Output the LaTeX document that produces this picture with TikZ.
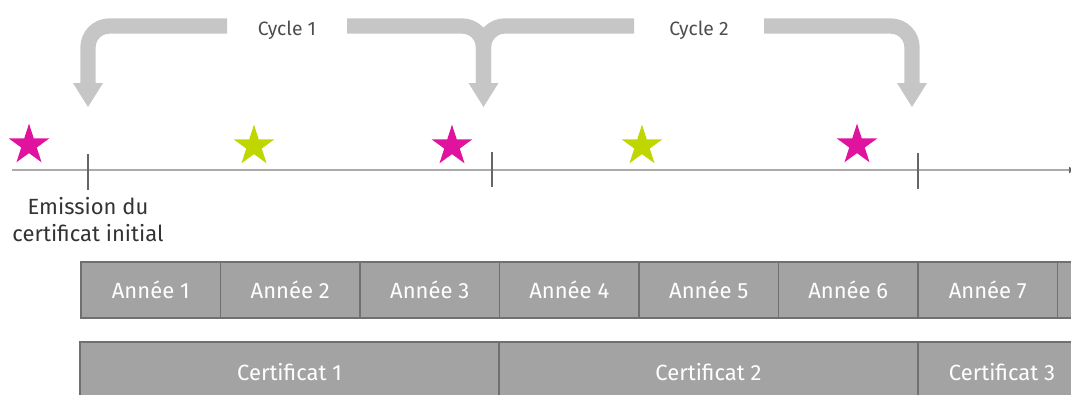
\documentclass[tikz,border=0pt]{standalone}
\usepackage{fontspec}
\setmainfont{Fira Sans}
\usetikzlibrary{shapes,positioning,arrows.meta,calc}
\definecolor{arrowgray}{HTML}{C6C6C6}
\definecolor{boxgray}{HTML}{A3A3A3}
\definecolor{boxline}{HTML}{707070}
\definecolor{starpink}{HTML}{E0139F}
\definecolor{stargreen}{HTML}{C0D600}
\definecolor{axisgray}{HTML}{ABABAB}
\definecolor{tickgray}{HTML}{666666}
\definecolor{labelgray}{HTML}{4D4D4D}
\definecolor{textgray}{HTML}{333333}

\begin{document}
\begin{tikzpicture}[x=0.75pt,y=-0.75pt]
\tikzstyle{yearbox}=[rectangle,draw=boxline,fill=boxgray,text=white,minimum width=104.625pt,minimum height=42pt,inner sep=0pt,outer sep=0pt,line width=0.9pt,font=\fontsize{16.5}{19}\selectfont]
\tikzstyle{certbox}=[yearbox,minimum width=314.25pt,minimum height=45pt]
\tikzstyle{starmark}=[star,star points=5,star point ratio=2.618,minimum size=32pt,inner sep=0pt]
\tikzstyle{cycleband}=[draw=arrowgray,line width=11.5pt,rounded corners=16pt]
\tikzstyle{cyclelabel}=[text=labelgray,inner sep=0pt,outer sep=0pt,font=\fontsize{14.5}{17}\selectfont]
\tikzstyle{tickline}=[draw=tickgray,line width=1.1pt]
\tikzstyle{emitlabel}=[text=textgray,align=center,inner sep=0pt,font=\fontsize{16.5}{20.5}\selectfont]

\useasboundingbox (0,0) rectangle (1071,394);

\node[cyclelabel,minimum width=90pt] (cyc1) at (287,30) {Cycle 1};
\node[cyclelabel,minimum width=97.5pt] (cyc2) at (699,30) {Cycle 2};
\coordinate (end0) at (88,84);
\coordinate (end1) at (483.5,84);
\coordinate (end2) at (912,84);
\draw[cycleband] ($(cyc1.west)+(0,-4)$) -| (end0);
\draw[cycleband] ($(cyc1.east)+(0,-4)$) -| (end1);
\draw[cycleband] ($(cyc2.west)+(0,-4)$) -| (end1);
\draw[cycleband] ($(cyc2.east)+(0,-4)$) -| (end2);
\foreach \e in {end0,end1,end2}
  \fill[arrowgray] ($(\e)+(-15,-1)$) -- ($(\e)+(15,-1)$) -- ($(\e)+(0,23)$) -- cycle;

\coordinate (ax0) at (12,170);
\coordinate (ax1) at (1075,170);
\draw[axisgray,line width=1.3pt,-{Latex[length=4.5pt,width=5.5pt,color=tickgray]}] (ax0) -- (ax1);
\coordinate (k0t) at (88,154);
\coordinate (k0b) at (88,190);
\coordinate (k1t) at (492,152);
\coordinate (k1b) at (492,187);
\coordinate (k2t) at (918,153);
\coordinate (k2b) at (918,189);
\draw[tickline] (k0t) -- (k0b);
\draw[tickline] (k1t) -- (k1b);
\draw[tickline] (k2t) -- (k2b);

\node[starmark,fill=starpink] (s1) at (29,145) {};
\node[starmark,fill=stargreen] (s2) at (254,146) {};
\node[starmark,fill=starpink] (s3) at (452,146) {};
\node[starmark,fill=stargreen] (s4) at (642,146) {};
\node[starmark,fill=starpink] (s5) at (857,145) {};

\node[emitlabel,below=5pt of k0b] (emit) {Emission du\\certificat initial};

\node[yearbox,anchor=north west] (y1) at (81,262) {Année 1};
\foreach \i [remember=\i as \j (initially 1)] in {2,...,7}
  \node[yearbox,right=0pt of y\j] (y\i) {Année \i};
\node[yearbox,right=0pt of y7] (y8) {};

\node[certbox,anchor=north west] (c1) at (80,342) {Certificat 1};
\node[certbox,right=0pt of c1] (c2) {Certificat 2};
\node[certbox,right=0pt of c2,minimum width=126pt] (c3) {Certificat 3};
\end{tikzpicture}
\end{document}
